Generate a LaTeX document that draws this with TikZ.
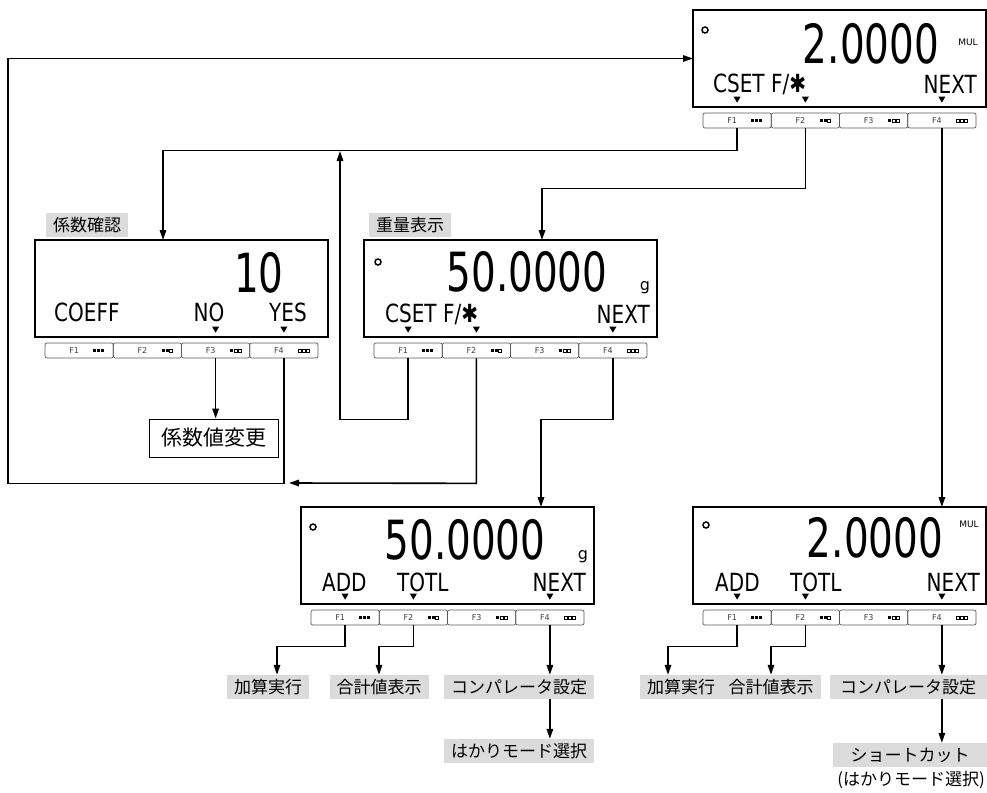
\documentclass[tikz,border=0pt]{standalone}
\usepackage{fontspec}
\setmainfont{Noto Sans CJK JP}
\newfontfamily\lcdfont{DejaVu Sans}
\usetikzlibrary{positioning,arrows.meta}

\begin{document}
\begin{tikzpicture}[x=1pt,y=-1pt,
    panel/.style={draw,line width=1.6pt,minimum width=293pt,minimum height=97pt,inner sep=0pt,outer sep=0pt},
    fkey/.style={draw=black!65,line width=0.7pt,rounded corners=2pt,minimum width=68.25pt,minimum height=15pt,inner sep=0pt},
    fname/.style={font=\lcdfont\fontsize{8}{8}\selectfont,text=black!75,inner sep=0pt},
    digits/.style={font=\lcdfont\fontsize{54}{54}\selectfont,xscale=0.72,inner sep=0pt},
    lcdrow/.style={font=\lcdfont\fontsize{25}{25}\selectfont,xscale=0.8,inner sep=0pt},
    unitmark/.style={font=\lcdfont\fontsize{#1}{#1}\selectfont,inner sep=0pt},
    tag/.style={fill=black!14,inner xsep=7pt,inner ysep=0pt,minimum height=24pt,font=\fontsize{17}{17}\selectfont},
    flow/.style={line width=1.6pt,-{Triangle[length=10pt,width=6.5pt]}}]

    \useasboundingbox (0,0) rectangle (987,792);

    \foreach \p/\x/\y in {T/693/10,C/35/240,W/364/240,A/301/507,B/693/507}{
        \node[panel] (\p) at ({\x+146.5},{\y+48.5}) {};
        \foreach \k in {1,...,4}{
            \node[fkey] (\p-k\k) at ({\x+68.25*\k-24.125},{\y+110.5}) {};
            \node[fname] at ([xshift=-5pt]\p-k\k.center) {F\k};
            \foreach \d in {1,2,3}{
                \ifnum\d<\numexpr5-\k\relax
                    \fill ({\x+68.25*\k-14+4*\d},{\y+109}) rectangle ++(3,3);
                \else
                    \draw[line width=0.4pt] ({\x+68.25*\k-14+4*\d},{\y+109}) rectangle ++(3,3);
                \fi
            }
        }
    }
    \foreach \m in {T-k1,T-k2,T-k4,C-k3,C-k4,W-k1,W-k2,W-k4,A-k1,A-k2,A-k4,B-k1,B-k2,B-k4}
        \fill (\m.north) ++(-3.5,-16) -- ++(7,0) -- ++(-3.5,6) -- cycle;

    \draw[line width=1.5pt] ([shift={(12,20)}]T.north west) circle (3);
    \node[digits] at ([shift={(178,34)}]T.north west) {2.0000};
    \node[unitmark=9] at ([shift={(275,32)}]T.north west) {MUL};
    \node[lcdrow,anchor=west] at ([shift={(20,74)}]T.north west) {CSET F/✱};
    \node[lcdrow,anchor=east] at ([shift={(284,74)}]T.north west) {NEXT};

    \node[digits] at ([shift={(224,33)}]C.north west) {10};
    \node[lcdrow,anchor=west] at ([shift={(19,72)}]C.north west) {COEFF};
    \node[lcdrow] at ([shift={(174,72)}]C.north west) {NO};
    \node[lcdrow] at ([shift={(253,72)}]C.north west) {YES};

    \draw[line width=1.5pt] ([shift={(14,22)}]W.north west) circle (3);
    \node[digits] at ([shift={(163,32)}]W.north west) {50.0000};
    \node[unitmark=16] at ([shift={(281,48)}]W.north west) {g};
    \node[lcdrow,anchor=west] at ([shift={(21,74)}]W.north west) {CSET F/✱};
    \node[lcdrow,anchor=east] at ([shift={(286,74)}]W.north west) {NEXT};

    \draw[line width=1.5pt] ([shift={(12,20)}]A.north west) circle (3);
    \node[digits] at ([shift={(164,33)}]A.north west) {50.0000};
    \node[unitmark=16] at ([shift={(282,50)}]A.north west) {g};
    \node[lcdrow,anchor=west] at ([shift={(21,75)}]A.north west) {ADD};
    \node[lcdrow,anchor=west] at ([shift={(96,75)}]A.north west) {TOTL};
    \node[lcdrow,anchor=east] at ([shift={(285,75)}]A.north west) {NEXT};

    \draw[line width=1.5pt] ([shift={(13,18)}]B.north west) circle (3);
    \node[digits] at ([shift={(182,31)}]B.north west) {2.0000};
    \node[unitmark=9] at ([shift={(276,17)}]B.north west) {MUL};
    \node[lcdrow,anchor=west] at ([shift={(22,75)}]B.north west) {ADD};
    \node[lcdrow,anchor=west] at ([shift={(97,75)}]B.north west) {TOTL};
    \node[lcdrow,anchor=east] at ([shift={(287,75)}]B.north west) {NEXT};

    \node[tag] (coefchk) at (87,225) {係数確認};
    \node[tag] (wtdisp) at (410,225) {重量表示};
    \node[draw,line width=1pt,minimum width=129pt,minimum height=38pt,inner sep=0pt,font=\fontsize{21}{21}\selectfont] (chg) at (214,438) {係数値変更};

    \node[tag] (add1) at (268,687) {加算実行};
    \node[tag] (tot1) at (379,687) {合計値表示};
    \node[tag] (cmp1) at (519,687) {コンパレータ設定};
    \node[tag] (mode1) at (519,751) {はかりモード選択};

    \node[tag] (add2) at (681,687) {加算実行};
    \node[tag] (tot2) at (771,687) {合計値表示};
    \node[tag,minimum width=157pt] (cmp2) at (908,687) {コンパレータ設定};
    \node[tag,minimum width=154pt] (short2) at (910,755) {ショートカット};
    \node[font=\fontsize{17}{17}\selectfont,inner sep=0pt] (mode2) at (911,780) {(はかりモード選択)};

    \coordinate (jtop) at (340,151);
    \coordinate (jbot) at (289,483);

    \draw[flow] (T-k1.south) -- ++(0,22) -| ([xshift=-18.5pt]C.north);
    \draw[flow] (W-k1.south) -- ++(0,61) -| (jtop);
    \draw[flow] (T-k2.south) -- ++(0,60) -| ([xshift=31.5pt]W.north);
    \draw[flow] (C-k3.south) -- (C-k3.south |- chg.north);
    \draw[flow] (C-k4.south) -- ++(0,125) -| ([xshift=-685pt]T.west) -- (T.west);
    \draw[flow] (W-k2.south) -- ++(0,125) -- (jbot);
    \draw[flow] (W-k4.south) -- ++(0,61) -| ([xshift=93.5pt]A.north);
    \draw[flow] (T-k4.south) -- (T-k4.south |- B.north);

    \draw[flow] (A-k1.south) -- ++(0,21) -| ([xshift=9pt]add1.north);
    \draw[flow] (A-k2.south) -- ++(0,21) -| (tot1.north);
    \draw[flow] (A-k4.south) -- (A-k4.south |- cmp1.north);
    \draw[flow] (A-k4.south |- cmp1.south) -- (A-k4.south |- mode1.north);

    \draw[flow] (B-k1.south) -- ++(0,21) -| ([xshift=-13pt]add2.north);
    \draw[flow] (B-k2.south) -- ++(0,21) -| (tot2.north);
    \draw[flow] (B-k4.south) -- (B-k4.south |- cmp2.north);
    \draw[flow] (B-k4.south |- cmp2.south) -- (B-k4.south |- short2.north);
\end{tikzpicture}
\end{document}
